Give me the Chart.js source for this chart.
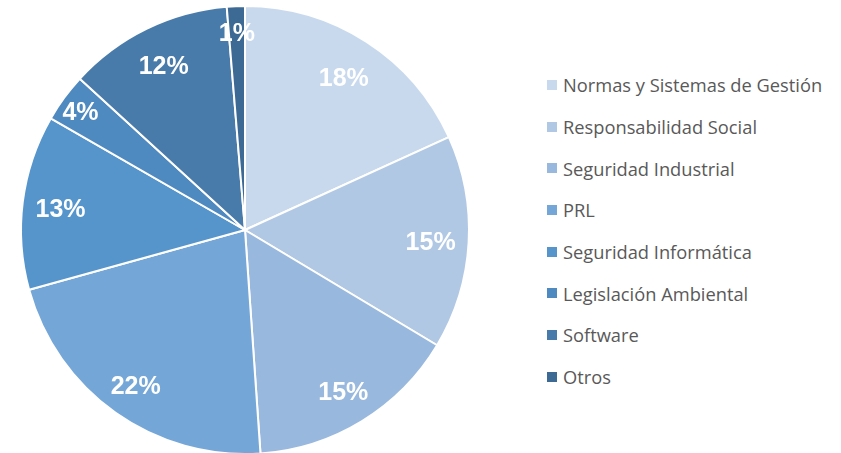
<!DOCTYPE html>
<html>
<head>
<meta charset="utf-8">
<script src="https://cdn.jsdelivr.net/npm/chart.js@4.4.1/dist/chart.umd.min.js"></script>
<style>
  html, body { margin: 0; padding: 0; background: #fff; overflow: hidden; }
  body { width: 841px; height: 453px; position: relative; }
  #wrap { position: absolute; left: 0; top: 0; width: 490px; height: 460px; }
  #legend { position: absolute; left: 547px; top: 64px; margin: 0; padding: 0; list-style: none;
            font-family: "Open Sans", sans-serif; font-size: 18.3px; color: #595959; }
  #legend li { height: 41.7px; display: flex; align-items: center; white-space: nowrap; }
  #legend span.box { display: inline-block; width: 10px; height: 10px; margin-right: 6px; }
</style>
</head>
<body>
<div id="wrap"><canvas id="pie" width="490" height="460"></canvas></div>
<ul id="legend"></ul>
<script>
// ===== DATA =====
const categories = [
  "Normas y Sistemas de Gestión",
  "Responsabilidad Social",
  "Seguridad Industrial",
  "PRL",
  "Seguridad Informática",
  "Legislación Ambiental",
  "Software",
  "Otros"
];
// shares (%); labels show them rounded
const shares = [18.2, 15.4, 15.3, 21.8, 12.6, 3.5, 11.9, 1.3];
const colors = ["#C8D9EE", "#B1C8E4", "#98B8DE", "#74A7D7", "#5595CC", "#4E89C0", "#487BAA", "#3D6A95"];

// label distance from centre, as fraction of radius
const labelPos = [0.815, 0.83, 0.84, 0.845, 0.83, 0.91, 0.825, 0.89];

const pctLabels = {
  id: "pctLabels",
  afterDatasetsDraw(chart) {
    const c = chart.ctx;
    const meta = chart.getDatasetMeta(0);
    c.save();
    c.fillStyle = "#ffffff";
    c.font = "bold 25px 'Liberation Sans', Arial, sans-serif";
    c.textAlign = "center";
    c.textBaseline = "middle";
    meta.data.forEach((arc, i) => {
      const mid = (arc.startAngle + arc.endAngle) / 2;
      const r = arc.outerRadius * labelPos[i];
      // +3: digits sit a bit high with "middle" baseline
      c.fillText(Math.round(shares[i]) + "%", arc.x + Math.cos(mid) * r, arc.y + Math.sin(mid) * r + 3);
    });
    c.restore();
  }
};

const pie = new Chart(document.getElementById("pie").getContext("2d"), {
  type: "pie",
  data: {
    labels: categories,
    datasets: [{
      data: shares,
      backgroundColor: colors,
      borderColor: "#ffffff",
      borderWidth: 2
    }]
  },
  options: {
    responsive: false,
    animation: false,
    layout: { padding: { top: 5, bottom: 5, left: 0, right: 0 } },
    plugins: { legend: { display: false }, tooltip: { enabled: false } }
  },
  plugins: [pctLabels]
});

// ===== LEGEND =====
const legendEl = document.getElementById("legend");
categories.forEach((name, i) => {
  const li = document.createElement("li");
  const box = document.createElement("span");
  box.className = "box";
  box.style.background = colors[i];
  li.appendChild(box);
  li.appendChild(document.createTextNode(name));
  legendEl.appendChild(li);
});
</script>
</body>
</html>
